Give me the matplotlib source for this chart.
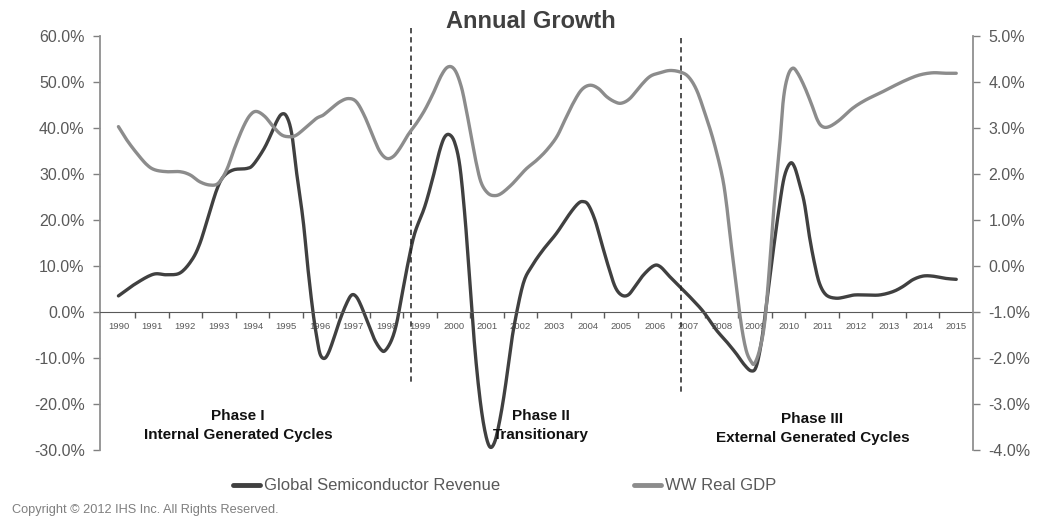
import numpy as np
import matplotlib.pyplot as plt

plt.rcParams['font.family'] = ['Liberation Sans', 'DejaVu Sans']

years = list(range(1990, 2016))

# Global semiconductor revenue growth (%), left axis, read at fractional years
semi_t = [1990.00, 1990.50, 1991.04, 1991.44, 1991.84, 1992.19, 1992.43, 1992.68, 1992.93,
          1993.13, 1993.43, 1993.83, 1994.02, 1994.32, 1994.52, 1994.72, 1994.87, 1995.02,
          1995.17, 1995.32, 1995.51, 1995.66, 1995.81, 1995.93, 1996.02, 1996.14, 1996.26,
          1996.41, 1996.61, 1996.81, 1996.96, 1997.10, 1997.25, 1997.45, 1997.65, 1997.85,
          1997.97, 1998.15, 1998.30, 1998.45, 1998.64, 1998.84, 1999.14, 1999.39, 1999.59,
          1999.74, 1999.89, 2000.04, 2000.19, 2000.34, 2000.49, 2000.63, 2000.78, 2000.93,
          2001.08, 2001.23, 2001.38, 2001.53, 2001.68, 2001.82, 2002.08, 2002.33, 2002.67,
          2003.07, 2003.47, 2003.72, 2003.87, 2004.02, 2004.22, 2004.42, 2004.62, 2004.82,
          2005.01, 2005.21, 2005.41, 2005.66, 2005.96, 2006.16, 2006.45, 2006.75, 2007.05,
          2007.45, 2007.84, 2008.14, 2008.43, 2008.68, 2008.88, 2009.03, 2009.18, 2009.33,
          2009.53, 2009.72, 2009.87, 2010.04, 2010.17, 2010.32, 2010.47, 2010.62, 2010.77,
          2010.92, 2011.12, 2011.41, 2011.71, 2011.96, 2012.31, 2012.71, 2013.10, 2013.40,
          2013.70, 2014.00, 2014.29, 2014.69, 2015.00]
semi_v = [3.5, 6.1, 8.2, 8.1, 8.5, 11.3, 14.9, 20.7, 26.5,
          29.4, 30.9, 31.2, 32.0, 35.2, 38.1, 41.4, 43.0, 42.5,
          38.8, 30.1, 20.0, 9.1, -0.3, -6.0, -9.2, -10.1, -9.0,
          -6.1, -1.7, 1.9, 3.7, 3.3, 1.2, -2.5, -6.1, -8.3,
          -8.3, -6.1, -2.5, 3.3, 10.6, 17.1, 22.9, 29.4, 35.2,
          38.1, 38.5, 36.7, 31.6, 20.7, 6.2, -7.5, -18.4, -25.7,
          -29.3, -28.2, -23.5, -17.0, -9.0, -2.5, 6.2, 9.9, 13.5,
          17.1, 21.4, 23.6, 24.0, 23.3, 20.0, 14.9, 9.9, 5.5,
          3.7, 3.7, 5.5, 8.0, 10.0, 9.9, 7.7, 5.5, 3.3,
          0.1, -3.9, -6.4, -9.0, -11.5, -12.8, -11.9, -6.8, 1.2,
          12.8, 22.9, 29.4, 32.3, 31.6, 28.0, 23.6, 16.4, 10.6,
          6.2, 3.7, 3.0, 3.3, 3.7, 3.7, 3.7, 4.4, 5.5,
          7.0, 7.8, 7.8, 7.3, 7.1]

# WW real GDP growth (%), right axis
gdp_t = [1990.00, 1990.25, 1990.55, 1990.85, 1991.09, 1991.44, 1991.84, 1992.14, 1992.43,
         1992.73, 1992.98, 1993.23, 1993.48, 1993.73, 1993.93, 1994.12, 1994.37, 1994.62,
         1994.87, 1995.12, 1995.32, 1995.62, 1995.91, 1996.11, 1996.36, 1996.61, 1996.86,
         1997.10, 1997.35, 1997.60, 1997.80, 1998.00, 1998.20, 1998.40, 1998.64, 1998.89,
         1999.14, 1999.39, 1999.64, 1999.84, 2000.04, 2000.23, 2000.38, 2000.53, 2000.68,
         2000.83, 2001.03, 2001.23, 2001.43, 2001.72, 2001.95, 2002.18, 2002.48, 2002.78,
         2003.08, 2003.32, 2003.57, 2003.82, 2004.07, 2004.32, 2004.57, 2004.81, 2005.01,
         2005.26, 2005.56, 2005.86, 2006.16, 2006.45, 2006.75, 2007.00, 2007.25, 2007.50,
         2007.75, 2008.00, 2008.13, 2008.28, 2008.43, 2008.58, 2008.73, 2008.88, 2008.98,
         2009.13, 2009.28, 2009.42, 2009.57, 2009.72, 2009.84, 2009.97, 2010.12, 2010.27,
         2010.47, 2010.67, 2010.86, 2011.01, 2011.21, 2011.51, 2011.91, 2012.30, 2012.70,
         2013.10, 2013.50, 2013.89, 2014.29, 2014.69, 2015.00]
gdp_v = [3.03, 2.74, 2.45, 2.20, 2.09, 2.05, 2.05, 1.98, 1.83,
         1.76, 1.80, 2.09, 2.59, 3.03, 3.28, 3.36, 3.25, 3.03,
         2.85, 2.81, 2.85, 3.03, 3.21, 3.28, 3.43, 3.57, 3.64,
         3.57, 3.25, 2.81, 2.49, 2.34, 2.38, 2.56, 2.85, 3.10,
         3.39, 3.75, 4.15, 4.33, 4.26, 3.90, 3.39, 2.81, 2.23,
         1.80, 1.58, 1.53, 1.58, 1.76, 1.94, 2.12, 2.30, 2.52,
         2.81, 3.17, 3.54, 3.83, 3.93, 3.86, 3.68, 3.57, 3.54,
         3.64, 3.90, 4.12, 4.20, 4.25, 4.22, 4.12, 3.83, 3.32,
         2.74, 2.01, 1.43, 0.49, -0.38, -1.25, -1.83, -2.08, -2.12,
         -1.83, -1.25, -0.09, 1.36, 2.52, 3.61, 4.12, 4.30, 4.19,
         3.90, 3.54, 3.17, 3.03, 3.03, 3.17, 3.43, 3.61, 3.75,
         3.90, 4.04, 4.15, 4.20, 4.19, 4.19]

phase_breaks = [1998.72, 2006.79]
phase_line_top = [61.7, 59.6]
phase_line_bottom = [-15.2, -17.4]
phase_labels = ['Phase I\nInternal Generated Cycles', 'Phase II\nTransitionary',
                'Phase III\nExternal Generated Cycles']
phase_label_x = [1993.57, 2002.61, 2010.71]
phase_label_y = [-24.6, -24.7, -25.3]

left_ticks = [60, 50, 40, 30, 20, 10, 0, -10, -20, -30]
right_ticks = [5, 4, 3, 2, 1, 0, -1, -2, -3, -4]


def smooth(t, v, n=10):
    # Catmull-Rom curve through the read points (like Excel's smoothed line)
    p = np.column_stack([t, v])
    p = np.vstack([p[0], p, p[-1]])
    s = np.linspace(0, 1, n, endpoint=False)[:, None]
    out = []
    for i in range(1, len(p) - 2):
        p0, p1, p2, p3 = p[i - 1], p[i], p[i + 1], p[i + 2]
        out.append(0.5 * (2 * p1 + (-p0 + p2) * s + (2 * p0 - 5 * p1 + 4 * p2 - p3) * s ** 2
                          + (-p0 + 3 * p1 - 3 * p2 + p3) * s ** 3))
    out.append(p[-2][None])
    out = np.vstack(out)
    return out[:, 0], out[:, 1]


fig = plt.figure(figsize=(10.46, 5.17), dpi=100)
ax = fig.add_axes([100 / 1046, 1 - 450 / 517, 873 / 1046, 414 / 517])
ax2 = ax.twinx()

txt = '#595959'
dark = '#404040'
grey = '#8c8c8c'

sx, sy = smooth(semi_t, semi_v)
gx, gy = smooth(gdp_t, gdp_v)
l1, = ax.plot(sx, sy, color=dark, lw=2.4, solid_capstyle='round')
l2, = ax2.plot(gx, gy, color=grey, lw=2.4, solid_capstyle='round')

ax.set_xlim(1989.45, 2015.5)
ax.set_ylim(-30, 60)
ax2.set_ylim(-4, 5)

ax.set_yticks(left_ticks)
ax.set_yticklabels([f'{v:.1f}%' for v in left_ticks])
ax2.set_yticks(right_ticks)
ax2.set_yticklabels([f'{v:.1f}%' for v in right_ticks])
ax.tick_params(axis='y', labelsize=11.5, colors=txt, length=5, width=1, color='#808080', pad=6)
ax2.tick_params(axis='y', labelsize=11.5, colors=txt, length=5, width=1, color='#808080', pad=6)

ax.set_xticks([y + 0.5 for y in years[:-1]])
ax.set_xticklabels([])
ax.set_xticks(years, minor=True)
ax.set_xticklabels([str(y) for y in years], minor=True)
ax.tick_params(axis='x', which='major', length=4, width=1, color='#595959', direction='out')
ax.tick_params(axis='x', which='minor', length=0, labelsize=6.8, colors=txt, pad=7)

for a in (ax, ax2):
    a.spines['top'].set_visible(False)
    a.patch.set_visible(False)
ax.spines['right'].set_visible(False)
ax2.spines['left'].set_visible(False)
ax2.spines['bottom'].set_visible(False)
ax.spines['bottom'].set_position(('data', 0))
ax.spines['bottom'].set_color('#595959')
ax.spines['left'].set_color('#909090')
ax.spines['left'].set_linewidth(1.3)
ax2.spines['right'].set_color('#909090')
ax2.spines['right'].set_linewidth(1.3)

for b, top, bot in zip(phase_breaks, phase_line_top, phase_line_bottom):
    ax.plot([b, b], [top, bot], color='#222222', lw=1.1, ls=(0, (3.5, 2.5)), clip_on=False)

for lab, x, y in zip(phase_labels, phase_label_x, phase_label_y):
    ax.text(x, y, lab, ha='center', va='center', multialignment='center',
            fontsize=11, fontweight='bold', color='#111111', linespacing=1.45)

fig.text(531 / 1046, 1 - 22 / 517, 'Annual Growth', ha='center', va='center',
         fontsize=17, fontweight='bold', color=dark)

leg1 = fig.legend([l1], ['Global Semiconductor Revenue'], loc='center left',
                  bbox_to_anchor=(233 / 1046, 1 - 486 / 517), frameon=False,
                  fontsize=12, handlelength=1.6, handletextpad=0.25,
                  borderpad=0, borderaxespad=0)
leg2 = fig.legend([l2], ['WW Real GDP'], loc='center left',
                  bbox_to_anchor=(634 / 1046, 1 - 486 / 517), frameon=False,
                  fontsize=12, handlelength=1.6, handletextpad=0.25,
                  borderpad=0, borderaxespad=0)
for leg in (leg1, leg2):
    for t in leg.get_texts():
        t.set_color(txt)
    for h in leg.get_lines():
        h.set_linewidth(3.5)

fig.text(12 / 1046, 1 - 510 / 517, 'Copyright \u00a9 2012 IHS Inc. All Rights Reserved.',
         ha='left', va='center', fontsize=9.2, color='#7f7f7f')

fig.savefig('out.png', dpi=100)
